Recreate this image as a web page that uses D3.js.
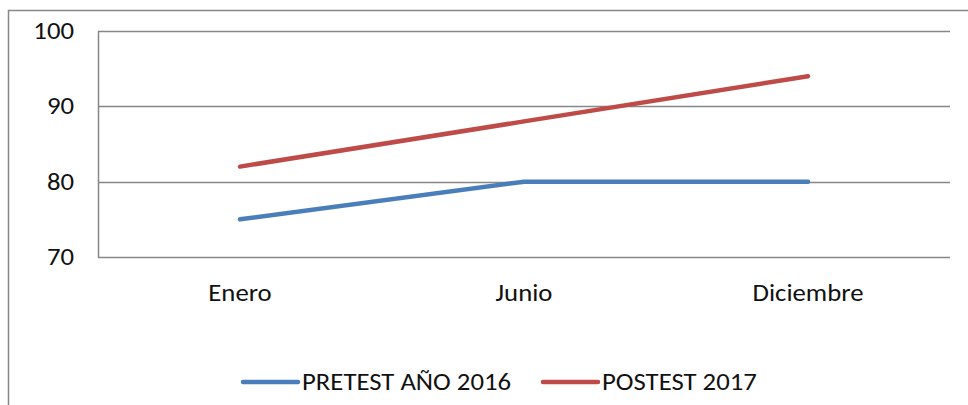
<!DOCTYPE html>
<html>
<head>
<meta charset="utf-8">
<script src="https://cdn.jsdelivr.net/npm/d3@7"></script>
<style>
  body { margin: 0; background: #fff; }
  svg { display: block; font-family: Carlito, Calibri, "Open Sans", sans-serif; }
</style>
</head>
<body>
<div id="chart"></div>
<script>
var categories = ["Enero", "Junio", "Diciembre"];
var pretest = [75, 80, 80];
var postest = [82, 88, 94];
var yTicks = [70, 80, 90, 100];
var seriesNames = ["PRETEST AÑO 2016", "POSTEST 2017"];
var colors = ["#4A7EBB", "#BE4B48"];

var width = 968, height = 405;
var plot = {left: 98, right: 950, top: 31, bottom: 257};
var fontSize = 25;
var stretch = 1.07; // reference text is a little wider than tall

var svg = d3.select("#chart").append("svg")
    .attr("width", width)
    .attr("height", height);

// outer chart border (cropped on right and bottom)
svg.append("rect")
    .attr("x", 8.5).attr("y", 10.5)
    .attr("width", 980).attr("height", 420)
    .attr("fill", "none")
    .attr("stroke", "#878787")
    .attr("stroke-width", 1.5);

var x = d3.scaleBand().domain(categories).range([plot.left, plot.right]);
var y = d3.scaleLinear().domain([70, 100]).range([plot.bottom, plot.top]);

function at(px, py) { return "translate(" + px + "," + py + ") scale(" + stretch + ",1)"; }

// gridlines
svg.append("g").selectAll("line").data(yTicks).enter().append("line")
    .attr("x1", plot.left).attr("x2", plot.right)
    .attr("y1", d => Math.round(y(d)) + 0.5).attr("y2", d => Math.round(y(d)) + 0.5)
    .attr("stroke", "#878787").attr("stroke-width", 1.5);

// y axis line
svg.append("line")
    .attr("x1", plot.left + 0.5).attr("x2", plot.left + 0.5)
    .attr("y1", plot.top).attr("y2", plot.bottom + 1)
    .attr("stroke", "#878787").attr("stroke-width", 1.5);

// y labels
svg.append("g").selectAll("text").data(yTicks).enter().append("text")
    .attr("transform", d => at(74, y(d) + 8))
    .attr("text-anchor", "end")
    .attr("font-size", fontSize)
    .attr("fill", "#111")
    .text(d => d);

// x labels
svg.append("g").selectAll("text").data(categories).enter().append("text")
    .attr("transform", d => at(x(d) + x.bandwidth() / 2, 301))
    .attr("text-anchor", "middle")
    .attr("font-size", fontSize)
    .attr("fill", "#111")
    .text(d => d);

var line = d3.line()
    .x((d, i) => x(categories[i]) + x.bandwidth() / 2)
    .y(d => y(d));

[pretest, postest].forEach(function (s, k) {
  svg.append("path")
      .datum(s)
      .attr("d", line)
      .attr("fill", "none")
      .attr("stroke", colors[k])
      .attr("stroke-width", 4.5)
      .attr("stroke-linecap", "round")
      .attr("stroke-linejoin", "round");
});

// legend
var legendX = [243, 543];
var lg = svg.append("g").selectAll("g").data(seriesNames).enter().append("g")
    .attr("transform", (d, i) => "translate(" + legendX[i] + ",382)");
lg.append("line")
    .attr("x1", 0).attr("x2", 55)
    .attr("stroke", (d, i) => colors[i])
    .attr("stroke-width", 4.5)
    .attr("stroke-linecap", "round");
lg.append("text")
    .attr("transform", at(59, 8))
    .attr("font-size", fontSize)
    .attr("fill", "#111")
    .text(d => d);
</script>
</body>
</html>
